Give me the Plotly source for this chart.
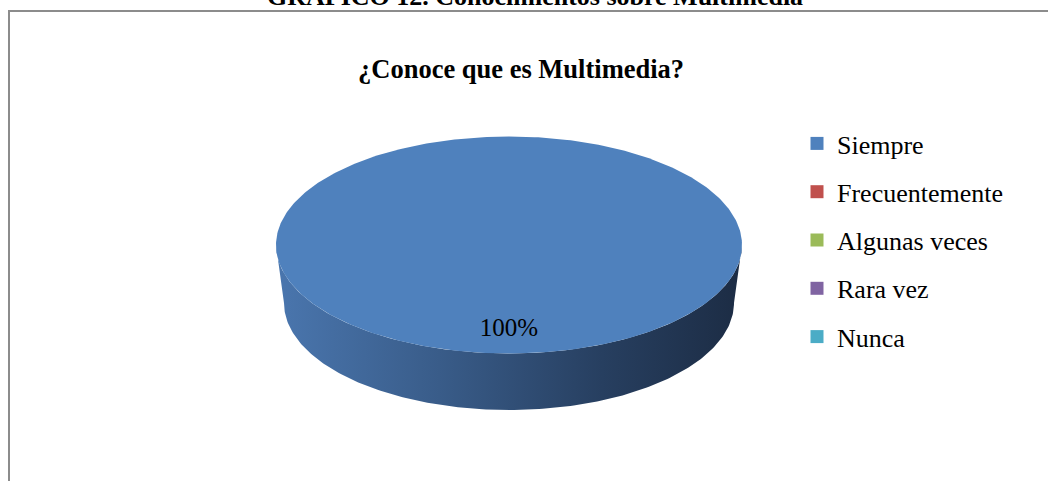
import numpy as np
import plotly.graph_objects as go

# ---- data ----
categories = ["Siempre", "Frecuentemente", "Algunas veces", "Rara vez", "Nunca"]
values = [100, 0, 0, 0, 0]
colors = ["#4F81BD", "#C0504D", "#9BBB59", "#8064A2", "#4BACC6"]
side_scales = [
    [[0, "#4a76ae"], [0.35, "#395c89"], [0.7, "#273f60"], [1, "#1c2c44"]],
    [[0, "#b04a47"], [1, "#4a1d1c"]],
    [[0, "#8fab52"], [1, "#3c4922"]],
    [[0, "#765c95"], [1, "#31263f"]],
    [[0, "#45a0b8"], [1, "#1d434d"]],
]
chart_title = "¿Conoce que es Multimedia?"
doc_title = "GRÁFICO 12. Conocimientos sobre Multimedia"

W, H = 1048, 481
# pie geometry (pixel units, y downwards)
CX, CY, RX, RY = 509, 245, 233, 108.5
BCY, BRX, BRY = 303, 225, 107

fig = go.Figure()

total = sum(values)
start = -np.pi / 2
FONT = "Liberation Serif, Times New Roman, serif"

for cat, v, col, sc in zip(categories, values, colors, side_scales):
    if v <= 0:
        continue
    a = start
    b = start + 2 * np.pi * v / total
    start = b
    # visible front side: angles in [0, pi] (screen y downwards)
    for k in range(-1, 2):
        lo = max(a, 0 + 2 * np.pi * k)
        hi = min(b, np.pi + 2 * np.pi * k)
        if hi > lo:
            t = np.linspace(lo, hi, 200)
            xs = np.concatenate([CX + RX * np.cos(t), (CX + BRX * np.cos(t))[::-1]])
            ys = np.concatenate([CY + RY * np.sin(t), (BCY + BRY * np.sin(t))[::-1]])
            fig.add_trace(go.Scatter(
                x=xs, y=ys, mode="lines", fill="toself", line=dict(width=0),
                fillgradient=dict(type="horizontal", colorscale=sc),
                showlegend=False, hoverinfo="skip"))
    # top face
    t = np.linspace(a, b, 400)
    xs = CX + RX * np.cos(t)
    ys = CY + RY * np.sin(t)
    if b - a < 2 * np.pi - 1e-9:
        xs = np.concatenate([[CX], xs, [CX]])
        ys = np.concatenate([[CY], ys, [CY]])
    fig.add_trace(go.Scatter(
        x=xs, y=ys, mode="lines", fill="toself", fillcolor=col,
        line=dict(width=0), showlegend=False, hoverinfo="skip"))
    mid = (a + b) / 2
    fig.add_trace(go.Scatter(
        x=[CX + 0.78 * RX * np.cos(mid)], y=[CY + 0.78 * RY * np.sin(mid)],
        mode="text", text=[f"{v / total * 100:.0f}%"],
        textfont=dict(family=FONT, size=25, color="black"),
        showlegend=False, hoverinfo="skip"))

for cat, col in zip(categories, colors):
    fig.add_trace(go.Scatter(
        x=[None], y=[None], mode="markers", name=cat,
        marker=dict(symbol="square", size=13, color=col),
        legendgroup=cat))

fig.update_layout(
    width=W, height=H,
    margin=dict(l=0, r=0, t=0, b=0),
    paper_bgcolor="white", plot_bgcolor="white",
    xaxis=dict(range=[0, W], visible=False, fixedrange=True),
    yaxis=dict(range=[H, 0], visible=False, fixedrange=True),
    showlegend=True,
    legend=dict(
        x=797 / W, xanchor="left", y=1 - 120 / H, yanchor="top",
        font=dict(family=FONT, size=26, color="black"),
        traceorder="grouped", tracegroupgap=11.5,
        bgcolor="rgba(0,0,0,0)", itemsizing="trace",
    ),
    shapes=[
        dict(type="line", xref="paper", yref="paper",
             x0=8.5 / W, x1=1.01, y0=1 - 11 / H, y1=1 - 11 / H,
             line=dict(color="#8c8c8c", width=2)),
        dict(type="line", xref="paper", yref="paper",
             x0=9 / W, x1=9 / W, y0=1 - 10 / H, y1=-0.01,
             line=dict(color="#8c8c8c", width=2)),
    ],
    annotations=[
        dict(text=f"<b>{doc_title}</b>", xref="paper", yref="paper",
             x=535 / W, y=1 + 4 / H, xanchor="center", yanchor="middle",
             showarrow=False, font=dict(family=FONT, size=26, color="black")),
        dict(text=f"<b>{chart_title}</b>", xref="paper", yref="paper",
             x=521 / W, y=1 - 69 / H, xanchor="center", yanchor="middle",
             showarrow=False, font=dict(family=FONT, size=26.5, color="black")),
    ],
)

fig.write_html("out.html", config={"displayModeBar": False},
               post_script="document.body.style.margin='0';")
